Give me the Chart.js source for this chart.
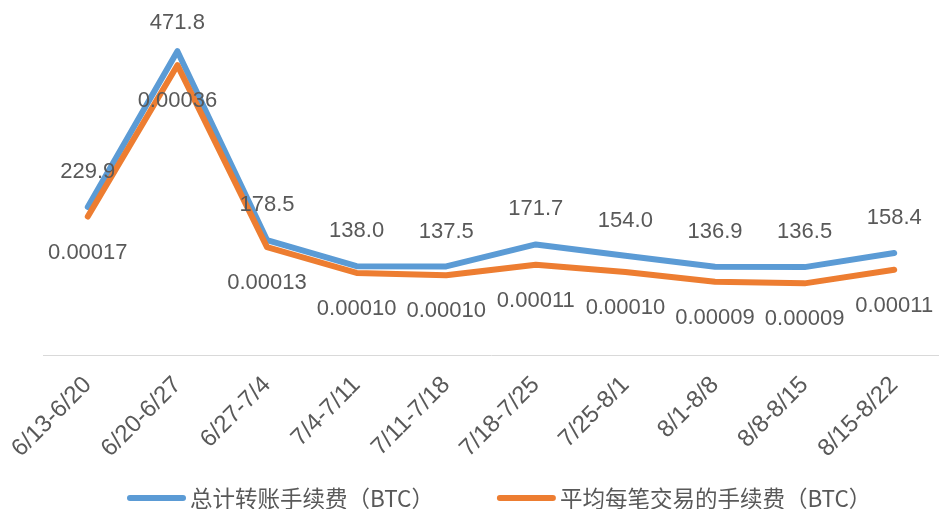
<!DOCTYPE html>
<html>
<head>
<meta charset="utf-8">
<script src="https://cdn.jsdelivr.net/npm/chart.js@4/dist/chart.umd.min.js"></script>
<style>
  html, body { margin: 0; padding: 0; background: #fff; }
  #wrap { width: 939px; height: 509px; position: relative; }
</style>
</head>
<body>
<div id="wrap"><canvas id="feeChart"></canvas></div>
<script>
// 周期
const weeks = ['6/13-6/20', '6/20-6/27', '6/27-7/4', '7/4-7/11', '7/11-7/18',
    '7/18-7/25', '7/25-8/1', '8/1-8/8', '8/8-8/15', '8/15-8/22'];
// 总计转账手续费（BTC）
const totalFees = [229.9, 471.8, 178.5, 138.0, 137.5, 171.7, 154.0, 136.9, 136.5, 158.4];
// 平均每笔交易的手续费（BTC）
const avgFees = [0.000172, 0.000360, 0.000134, 0.000102, 0.000099, 0.000112, 0.000103, 0.000091, 0.000089, 0.000106];

const seriesNames = ['总计转账手续费（BTC）', '平均每笔交易的手续费（BTC）'];
const blue = '#5B9BD5';
const orange = '#ED7D31';
const textGray = '#595959';
const numFont = '22px "Liberation Sans", Arial, sans-serif';
const legendFont = '22.5px "Noto Sans CJK SC", sans-serif';

// 数据标签（蓝线在上方，橙线在下方）
const pointLabels = {
    id: 'pointLabels',
    afterDatasetsDraw(chart) {
        const ctx = chart.ctx;
        ctx.save();
        ctx.font = numFont;
        ctx.fillStyle = textGray;
        ctx.textAlign = 'center';
        ctx.textBaseline = 'middle';
        chart.data.datasets.forEach((ds, i) => {
            const meta = chart.getDatasetMeta(i);
            meta.data.forEach((pt, j) => {
                const v = ds.data[j];
                let ty;
                if (i === 0) {
                    // 顶部的标签不超出画布
                    ty = Math.max(pt.y - 35, 23);
                    ctx.fillText(v.toFixed(1), pt.x, ty);
                } else {
                    ty = pt.y + 36;
                    ctx.fillText(v.toFixed(5), pt.x, ty);
                }
            });
        });
        ctx.restore();
    }
};

// 图例：线段 + 文字，画在底部
const bottomLegend = {
    id: 'bottomLegend',
    afterDraw(chart) {
        const ctx = chart.ctx;
        const y = 498;
        let x = 130;
        ctx.save();
        ctx.font = legendFont;
        ctx.textAlign = 'left';
        ctx.textBaseline = 'middle';
        chart.data.datasets.forEach((ds) => {
            ctx.strokeStyle = ds.borderColor;
            ctx.lineWidth = 6;
            ctx.lineCap = 'round';
            ctx.beginPath();
            ctx.moveTo(x, y);
            ctx.lineTo(x + 53, y);
            ctx.stroke();
            x += 60;
            ctx.fillStyle = textGray;
            ctx.fillText(ds.label, x, y);
            x += ctx.measureText(ds.label).width + 66;
        });
        ctx.restore();
    }
};

const ctx = document.getElementById('feeChart').getContext('2d');
const feeChart = new Chart(ctx, {
    type: 'line',
    data: {
        labels: weeks,
        datasets: [
            {
                label: seriesNames[0],
                data: totalFees,
                borderColor: blue,
                backgroundColor: blue,
                borderWidth: 6,
                borderCapStyle: 'round',
                borderJoinStyle: 'round',
                pointRadius: 0,
                tension: 0,
                yAxisID: 'y',
                order: 1
            },
            {
                label: seriesNames[1],
                data: avgFees,
                borderColor: orange,
                backgroundColor: orange,
                borderWidth: 6,
                borderCapStyle: 'round',
                borderJoinStyle: 'round',
                pointRadius: 0,
                tension: 0,
                yAxisID: 'y2',
                order: 0
            }
        ]
    },
    options: {
        responsive: true,
        maintainAspectRatio: false,
        animation: false,
        layout: {
            padding: { left: 43, right: 0, top: 33, bottom: 0 }
        },
        plugins: {
            legend: { display: false },
            tooltip: { enabled: false }
        },
        scales: {
            x: {
                offset: true,
                grid: { display: false },
                border: { display: true, color: '#D9D9D9', width: 1 },
                ticks: {
                    minRotation: 45,
                    maxRotation: 45,
                    color: textGray,
                    font: { size: 24, family: '"Liberation Sans", Arial, sans-serif' },
                    padding: 8
                },
                afterFit: function (scale) {
                    scale.paddingLeft = 0;
                    scale.paddingRight = 0;
                    scale.height = 154;
                }
            },
            y: {
                display: false,
                min: 0,
                max: 500
            },
            y2: {
                display: false,
                min: 0,
                max: 0.0004
            }
        }
    },
    plugins: [pointLabels, bottomLegend]
});
</script>
</body>
</html>
